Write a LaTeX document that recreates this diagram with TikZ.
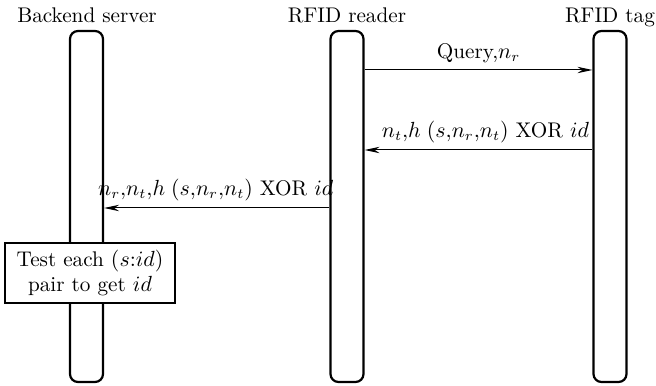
\documentclass[tikz,border=0pt]{standalone}
\usepackage{amsmath,amssymb}
\usetikzlibrary{arrows.meta}

\tikzset{
	lifeline/.style={draw, line width=1.1pt, rounded corners=4pt,
		minimum width=16.5pt, minimum height=175.5pt, inner sep=0pt},
	party/.style={anchor=base},
	msg/.style={line width=0.5pt, -{Stealth[length=7.5pt,width=3.2pt]}},
	testbox/.style={draw, line width=1pt, fill=white, align=center,
		minimum width=85pt, minimum height=30pt, inner sep=2pt}
}

\begin{document}
\begin{tikzpicture}[x=0.5pt, y=0.5pt,
	every node/.style={font=\fontsize{10.6}{12.6}\selectfont}]
	\useasboundingbox (0,0) rectangle (656,385);
	
	% --- parties ---
	\node[party] (hserver) at (87,362) {Backend server};
	\node[party] (hreader) at (347,362) {RFID reader};
	\node[party] (htag)    at (610,362) {RFID tag};
	
	% --- lifelines ---
	\node[lifeline] (server) at (86.5,178.5) {};
	\node[lifeline] (reader) at (347,178.5) {};
	\node[lifeline] (tag)    at (610,178.5) {};
	
	% message heights
	\coordinate (m1) at (0,315);
	\coordinate (m2) at (0,235);
	\coordinate (m3) at (0,177);
	
	% --- messages ---
	\draw[msg] (reader.east |- m1) -- (tag.west |- m1)
		node[midway, above] {Query,$n_r$};
	\draw[msg] (tag.west |- m2) -- (reader.east |- m2)
		node[midway, above, xshift=3.5pt] {$n_t{,}h\;(s{,}n_r{,}n_t)$ XOR $id$};
	\draw[msg] (reader.west |- m3) -- (server.east |- m3)
		node[midway, above, xshift=-0.5pt] {$n_r{,}n_t{,}h\;(s{,}n_r{,}n_t)$ XOR $id$};
	
	% --- local computation ---
	\node[testbox] (test) at (90,112) {Test each $(s{:}id)$\\pair to get $id$};
	
\end{tikzpicture}
\end{document}
